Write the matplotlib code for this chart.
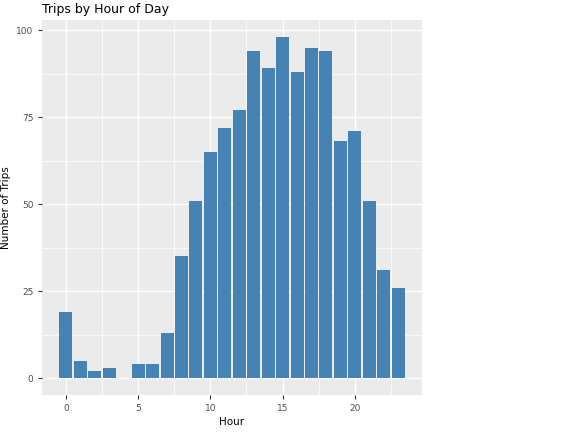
import matplotlib
matplotlib.use("Agg")
import matplotlib.pyplot as plt

hours = list(range(24))
trips = [19, 5, 2, 3, 0, 4, 4, 13, 35, 51, 65, 72, 77, 94, 89, 98, 88, 95, 94, 68, 71, 51, 31, 26]
xticks = [0, 5, 10, 15, 20]
yticks = [0, 25, 50, 75, 100]

fig = plt.figure(figsize=(5.68, 4.37), dpi=100)
ax = fig.add_axes([0.074, 0.096, 0.669, 0.858])
ax.set_facecolor("#EBEBEB")
ax.bar(hours, trips, width=0.9, color="#4682B4", zorder=3)
ax.set_xlim(-1.65, 24.65)
ax.set_ylim(-4.9, 102.9)
ax.set_xticks(xticks)
ax.set_yticks(yticks)
ax.set_xticks([2.5, 7.5, 12.5, 17.5, 22.5], minor=True)
ax.set_yticks([12.5, 37.5, 62.5, 87.5], minor=True)
ax.grid(True, which="major", color="white", linewidth=1.0, zorder=0)
ax.grid(True, which="minor", color="white", linewidth=0.5, zorder=0)
for s in ax.spines.values():
    s.set_visible(False)
ax.tick_params(which="major", length=2.7, color="#333333", labelsize=6.5, labelcolor="#4D4D4D")
ax.tick_params(which="minor", length=0)
ax.set_xlabel("Hour", fontsize=7.5, labelpad=3)
ax.set_ylabel("Number of Trips", fontsize=7.5, labelpad=4)
ax.set_title("Trips by Hour of Day", fontsize=9, loc="left", pad=5)
fig.savefig("out.png", dpi=100)
